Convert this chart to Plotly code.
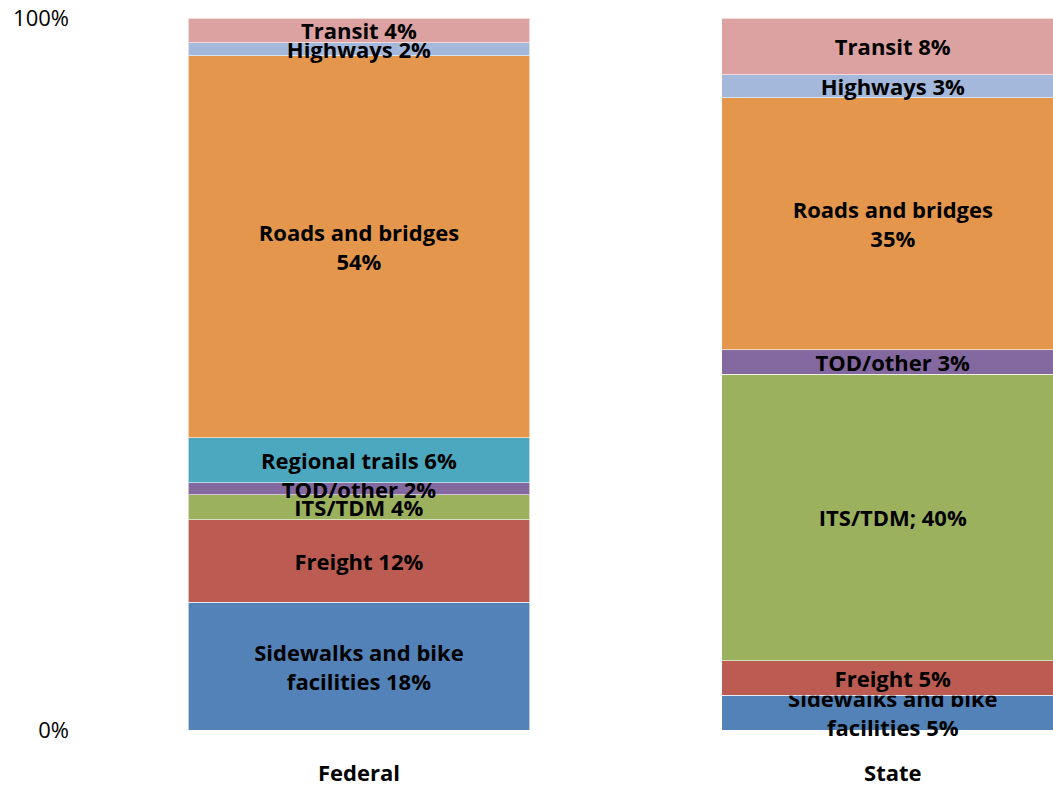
import plotly.graph_objects as go

categories = ["Federal", "State"]

series_names = ["Sidewalks and bike facilities", "Freight", "ITS/TDM", "TOD/other",
                "Regional trails", "Roads and bridges", "Highways", "Transit"]

sidewalks = [17.9, 4.9]
freight = [11.6, 4.8]
its_tdm = [3.5, 40.3]
tod_other = [1.7, 3.4]
regional_trails = [6.3, 0.0]
roads = [53.6, 35.4]
highways = [1.8, 3.2]
transit = [3.5, 8.0]

labels_sidewalks = ["Sidewalks and bike<br>facilities 18%", "Sidewalks and bike<br>facilities 5%"]
labels_freight = ["Freight 12%", "Freight 5%"]
labels_its = ["ITS/TDM 4%", "ITS/TDM; 40%"]
labels_tod = ["TOD/other 2%", "TOD/other 3%"]
labels_trails = ["Regional trails 6%", ""]
labels_roads = ["Roads and bridges<br>54%", "Roads and bridges<br>35%"]
labels_highways = ["Highways 2%", "Highways 3%"]
labels_transit = ["Transit 4%", "Transit 8%"]

y_tick_values = [0, 100]
y_tick_labels = ["0%", "100%"]

colors = ["#5282B8", "#BC5B52", "#9BB15E", "#8468A0", "#4BA8BE", "#E4964D", "#A3B8DA", "#DCA2A1"]

values = [sidewalks, freight, its_tdm, tod_other, regional_trails, roads, highways, transit]
labels = [labels_sidewalks, labels_freight, labels_its, labels_tod, labels_trails,
          labels_roads, labels_highways, labels_transit]

FONT = "Open Sans"

fig = go.Figure()
for name, vals, txt, col in zip(series_names, values, labels, colors):
    fig.add_trace(go.Bar(
        x=categories, y=vals, name=name, text=txt,
        textposition="inside", insidetextanchor="middle", textangle=0,
        cliponaxis=False,
        insidetextfont=dict(family=FONT, size=22, color="black", weight="bold"),
        marker=dict(color=col, line=dict(color="rgba(255,255,255,0.6)", width=1)),
        hoverinfo="skip",
    ))

fig.update_layout(
    barmode="stack",
    barnorm="percent",
    bargap=0.36,
    width=1053, height=787,
    margin=dict(l=92, r=0, t=18, b=55),
    paper_bgcolor="white", plot_bgcolor="white",
    showlegend=False,
    uniformtext=dict(minsize=22, mode="show"),
    font=dict(family=FONT, color="black"),
)
fig.update_xaxes(
    range=[-0.5, 1.3], showgrid=False, zeroline=False, showline=False, ticks="",
    tickfont=dict(family=FONT, size=22, color="black", weight="bold"),
    ticklabelstandoff=28,
)
fig.update_yaxes(
    range=[0, 100], tickmode="array", tickvals=y_tick_values, ticktext=y_tick_labels,
    showgrid=False, zeroline=False, showline=False, ticks="",
    tickfont=dict(family=FONT, size=22, color="black"),
    ticklabelstandoff=22,
)

fig.write_html("out.html")
